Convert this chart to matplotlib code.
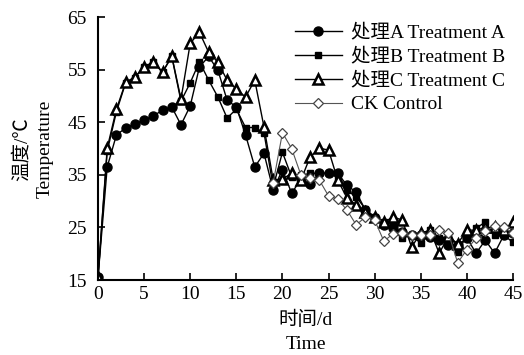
import numpy as np
import matplotlib.pyplot as plt

plt.rcParams['font.family'] = ['Liberation Serif', 'Noto Sans CJK SC']
plt.rcParams['font.size'] = 14

days = list(range(46))
ck_days = list(range(19, 46))

temp_a = [15.5, 36.5, 42.6, 43.9, 44.7, 45.4, 46.2, 47.3, 47.9, 44.5,
          48.1, 55.5, 57.5, 54.9, 49.2, 47.9, 42.6, 36.5, 39.1, 32.1,
          36.0, 31.5, 34.2, 33.2, 35.3, 35.3, 35.3, 33.0, 31.7, 28.3,
          26.8, 25.5, 24.9, 24.1, 23.5, 23.5, 23.2, 22.6, 21.7, 21.6,
          23.0, 20.1, 22.6, 20.1, 23.5, 24.0]
temp_b = [15.5, 39.5, 47.0, 52.5, 53.5, 55.5, 56.5, 54.5, 57.5, 49.0,
          52.5, 56.5, 53.0, 49.8, 45.8, 47.5, 44.0, 44.0, 43.0, 32.7,
          39.3, 34.6, 34.9, 35.3, 35.3, 35.3, 34.6, 32.1, 30.8, 28.5,
          27.0, 26.0, 25.5, 23.0, 23.5, 22.0, 24.5, 23.0, 23.3, 20.3,
          23.5, 24.9, 26.0, 23.5, 23.5, 22.2]
temp_c = [15.5, 40.1, 47.5, 52.6, 53.6, 55.5, 56.4, 54.5, 57.6, 49.4,
          60.0, 62.1, 58.3, 56.4, 53.0, 51.3, 49.8, 53.0, 44.1, 34.0,
          34.2, 35.3, 34.0, 38.4, 40.1, 39.7, 34.0, 30.6, 29.3, 28.0,
          27.0, 26.0, 27.0, 26.4, 21.3, 23.9, 24.5, 20.1, 23.3, 21.9,
          24.5, 24.5, 25.0, 25.0, 24.5, 26.0]
temp_ck = [33.5, 43.0, 40.0, 35.0, 34.4, 34.0, 31.0, 30.4, 28.3, 25.5,
           27.0, 26.4, 22.4, 23.8, 24.0, 23.5, 23.5, 23.5, 24.5, 23.9,
           18.3, 20.8, 23.0, 24.3, 25.3, 25.0, 24.0]

fig = plt.figure(figsize=(5.24, 3.55), dpi=100)
ax = fig.add_axes([0.187, 0.211, 0.792, 0.741])

ax.plot(days, temp_a, color='black', lw=1.0, marker='o', markersize=6.5,
        mfc='black', mec='black', label='处理A Treatment A')
ax.plot(days, temp_b, color='black', lw=1.0, marker='s', markersize=5,
        mfc='black', mec='black', label='处理B Treatment B')
ax.plot(days, temp_c, color='black', lw=1.0, marker='^', markersize=7,
        mfc='white', mec='black', mew=1.8, label='处理C Treatment C')
ax.plot(ck_days, temp_ck, color='#555555', lw=0.8, marker='D', markersize=5,
        mfc='white', mec='#444444', mew=0.9, label='CK Control')

ax.set_xlim(0, 45)
ax.set_ylim(15, 65)
ax.set_xticks(np.arange(0, 46, 5))
ax.set_yticks(np.arange(15, 66, 10))
ax.spines['top'].set_visible(False)
ax.spines['right'].set_visible(False)
ax.spines['left'].set_linewidth(1.5)
ax.spines['bottom'].set_linewidth(1.5)
ax.tick_params(direction='in', length=5, width=1.2, labelsize=14)
ax.tick_params(axis='x', pad=4)
ax.tick_params(axis='y', pad=8)

ax.set_xlabel('时间/d\nTime', fontsize=14, linespacing=1.55, labelpad=6)
ax.set_ylabel('温度/℃\nTemperature', fontsize=14, linespacing=1.45, labelpad=10)

ax.legend(loc='upper right', bbox_to_anchor=(1.01, 1.02), frameon=False,
          handlelength=2.4, handletextpad=0.5, labelspacing=0.32,
          borderaxespad=0.2, fontsize=14)

fig.savefig('out.png', dpi=100)
